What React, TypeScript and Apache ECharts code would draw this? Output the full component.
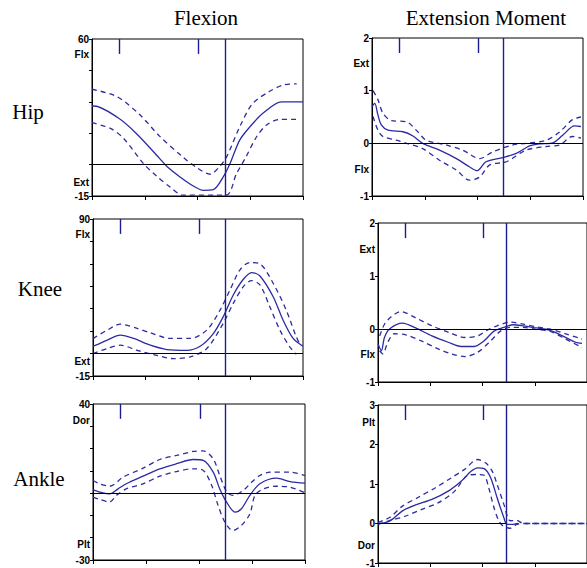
import React, { useEffect, useRef } from "react";
import * as echarts from "echarts";

// ---- data: [percent of gait cycle, value] ----
const hipFlexMean = [[0,28],[1,28],[12,22.6],[21,14.9],[32,3],[35.4,-0.8],[41.7,-5.9],[48,-10.2],[52.8,-12.3],[57.5,-12],[62.2,-5.9],[65.4,0.5],[70,11.7],[74.8,18],[81,24.5],[89.8,30],[100,30]];
const hipFlexUpper = [[0,36],[11.8,32.5],[22.8,23.7],[32,13.6],[43,3.7],[49.6,-1.4],[56,-4.6],[60.6,-0.8],[63.8,3.7],[70,18],[76,29],[84,34.9],[90.5,38],[97,38.6]];
const hipFlexLower = [[0,20],[8.7,17.3],[15,12.5],[24.4,0.5],[30.7,-5.6],[37,-10.7],[43,-14.6],[63.5,-14.6],[68.5,-4.3],[73,3.7],[78,13.3],[82.7,18.9],[89,21.6],[97,21.6]];

const hipMomMean = [[0,0.7],[1.3,0.76],[2.8,0.54],[4.4,0.35],[7.6,0.25],[14.7,0.22],[19.4,0.14],[24,0],[32,-0.13],[40,-0.29],[46.3,-0.45],[49.8,-0.52],[54,-0.35],[62,-0.27],[68.4,-0.19],[74.7,-0.05],[79.5,-0.01],[85.8,0.01],[90.5,0.16],[96,0.33],[99,0.32]];
const hipMomUpper = [[0.5,1.0],[2.8,0.83],[5.2,0.57],[9.2,0.43],[16.3,0.41],[21,0.25],[25.7,0.06],[35,-0.03],[43,-0.13],[51,-0.29],[57.3,-0.16],[66.8,-0.03],[73,0],[82.6,0.06],[89,0.22],[95,0.45],[99,0.5]];
const hipMomLower = [[0.5,0.51],[2.8,0.25],[5.2,0.13],[11.5,0.06],[16.3,0],[24,-0.1],[32,-0.32],[40,-0.51],[46.3,-0.7],[51,-0.64],[55.8,-0.41],[63.7,-0.35],[73,-0.13],[82.6,-0.06],[89,-0.03],[95,0.13],[99,0.1]];

const kneeFlexMean = [[0,5],[1.3,5.6],[6.8,9],[13,12.3],[19.4,10.1],[27.3,5.6],[35.2,2.7],[44.7,2.2],[51,4.9],[57.3,13.4],[62,24.6],[66.8,39.2],[71.6,49.7],[75.5,54.2],[79.5,51.9],[85.8,38],[90.5,22.4],[95.3,10.1],[100,4.9]];
const kneeFlexUpper = [[0,10],[1.3,11.2],[6.8,15.7],[13,19.7],[21,16.8],[27.3,13.9],[36.8,10.1],[46.3,10.1],[54.2,15.7],[60.5,29.1],[65.2,42.5],[70,56],[74.7,60.9],[79.5,60],[85.8,47],[92,29.1],[96.8,11.2],[99,5]];
const kneeFlexLower = [[0,0],[6.8,3.4],[13,5.6],[21,2.2],[28.9,-0.7],[38.4,-3.4],[46.3,-2.2],[54.2,3.4],[62,20.2],[66.8,33.6],[71.6,44.8],[75.5,48.8],[79.5,45.9],[84.2,31.3],[89,15.7],[93.7,4.5],[96.8,-0.4]];

const kneeMomMean = [[0,-0.28],[1.6,-0.41],[3.1,-0.16],[5.5,0],[11.7,0.11],[18,0.02],[25.8,-0.13],[33.6,-0.25],[39.8,-0.33],[46,-0.33],[50.8,-0.22],[55.5,-0.04],[60.2,0.03],[64.8,0.08],[69.5,0.06],[75.8,0.02],[82,-0.02],[88.3,-0.13],[94.5,-0.25],[97.6,-0.27]];
const kneeMomUpper = [[0.8,-0.13],[3.1,0.09],[6.3,0.23],[10.9,0.33],[18,0.21],[25.8,0.06],[33.6,-0.06],[41.4,-0.16],[47.7,-0.13],[52.3,-0.02],[57,0.06],[63.3,0.13],[69.5,0.09],[75.8,0.04],[82,0],[89.8,-0.09],[97.6,-0.19]];
const kneeMomLower = [[0.8,-0.41],[2.3,-0.47],[4.7,-0.25],[7.8,-0.09],[13.3,-0.11],[21,-0.23],[29,-0.38],[35.2,-0.47],[41.4,-0.52],[47.7,-0.44],[54,-0.22],[58.6,-0.04],[63.3,0.03],[69.5,0.03],[75.8,-0.01],[82,-0.04],[89.8,-0.19],[97.6,-0.35]];

const ankleFlexMean = [[0,1.5],[4.7,0.15],[7.9,-0.3],[11.8,1.9],[15.7,4.2],[23.6,7.6],[31.5,10.9],[39.4,13.2],[47.2,15.1],[52,14.7],[56.7,9.4],[59.8,1.9],[63,-4],[67,-8.5],[70,-7],[74,-1],[78.7,4.2],[86.6,6.7],[93,5.2],[100,4.5]];
const ankleFlexUpper = [[0,5.7],[3.1,4.2],[7.9,3.1],[14.2,7.2],[23.6,11.2],[31.5,15.1],[39.4,16.9],[47.2,18.7],[52,19],[56.7,15.4],[59.8,7.9],[63,0.7],[66,-1],[70.9,1.2],[74.8,4.9],[78.7,7.9],[83.5,9.4],[93,9.4],[100,7.9]];
const ankleFlexLower = [[0,-1.8],[3.1,-2.8],[7.9,-4],[11,-1],[15.7,1.9],[23.6,4.2],[31.5,7.6],[39.4,9.7],[47.2,10.9],[52,10.2],[56,3.4],[59,-5.5],[62.2,-13],[66,-16.8],[70,-14.5],[74,-9.3],[76.4,-1],[80.3,1.9],[86.6,3.1],[93,2.7],[100,0.15]];

const ankleMomMean = [[0,0],[3.9,0.03],[7,0.11],[11.7,0.32],[18,0.47],[25.8,0.61],[33.6,0.82],[39.8,1.07],[44.5,1.32],[47.7,1.41],[50.8,1.39],[53.9,1.16],[57,0.65],[60.2,0.15],[61.7,-0.02],[64.8,-0.02],[67,0]];
const ankleMomUpper = [[0,0.03],[5.5,0.15],[11.7,0.44],[19.5,0.67],[27.3,0.9],[35.2,1.16],[41.4,1.37],[47.7,1.62],[51.6,1.53],[54.7,1.32],[57,0.99],[60.2,0.49],[63.3,0.07],[66.4,0.08],[69.5,0],[100,0]];
const ankleMomLower = [[0,-0.02],[5.5,0.07],[13.3,0.19],[21,0.36],[29,0.53],[36.7,0.82],[43,1.22],[47.7,1.24],[50.8,1.22],[53,0.9],[55.5,0.4],[57.8,0.07],[60.2,-0.08],[63.3,-0.12],[66.4,-0.02],[69.5,0],[100,0]];

const toeOff = [63, 62, 63, 61.4, 62.2, 61.4];
const eventMarks = [13, 50.5];
const columnTitles = ["Flexion", "Extension Moment"];
const rowTitles = ["Hip", "Knee", "Ankle"];

const CURVE = "#2b2ba3";
const NAVY = "#1d1d8f";
const LABEL_FONT = 'bold 10px "Liberation Sans", Arial, sans-serif';

const panels = [
  { rect: { left: 92, top: 39, width: 211, height: 157 }, min: -15, max: 60, interval: 15, all: false, mean: hipFlexMean, upper: hipFlexUpper, lower: hipFlexLower, zeroEnd: 100, top: "Flx", bottom: "Ext", topY: 54.5, botY: 182.5 },
  { rect: { left: 372, top: 38, width: 211, height: 158 }, min: -1, max: 2, interval: 1, all: true, mean: hipMomMean, upper: hipMomUpper, lower: hipMomLower, zeroEnd: 100, top: "Ext", bottom: "Flx", topY: 63.5, botY: 169 },
  { rect: { left: 93, top: 219, width: 210, height: 157 }, min: -15, max: 90, interval: 15, all: false, mean: kneeFlexMean, upper: kneeFlexUpper, lower: kneeFlexLower, zeroEnd: 100, top: "Flx", bottom: "Ext", topY: 234.5, botY: 361 },
  { rect: { left: 378, top: 223, width: 213, height: 159 }, min: -1, max: 2, interval: 1, all: true, mean: kneeMomMean, upper: kneeMomUpper, lower: kneeMomLower, zeroEnd: 100, top: "Ext", bottom: "Flx", topY: 249, botY: 354 },
  { rect: { left: 93, top: 404, width: 212, height: 156 }, min: -30, max: 40, interval: 10, all: false, mean: ankleFlexMean, upper: ankleFlexUpper, lower: ankleFlexLower, zeroEnd: 100, top: "Dor", bottom: "Plt", topY: 420.5, botY: 544.5 },
  { rect: { left: 378, top: 405, width: 213, height: 159 }, min: -1, max: 3, interval: 1, all: true, mean: ankleMomMean, upper: ankleMomUpper, lower: ankleMomLower, zeroEnd: 61.4, top: "Plt", bottom: "Dor", topY: 422, botY: 545.5 },
];

export default function App() {
  const ref = useRef<HTMLDivElement>(null);
  useEffect(() => {
    const chart = echarts.init(ref.current!, null, { renderer: "svg" });
    const grid: any[] = [];
    const xAxis: any[] = [];
    const yAxis: any[] = [];
    const series: any[] = [];
    const graphic: any[] = [];

    panels.forEach((p, i) => {
      grid.push({ ...p.rect, show: true, borderColor: "#000", borderWidth: 1, backgroundColor: "transparent", containLabel: false });
      xAxis.push({
        type: "value", gridIndex: i, min: 0, max: 100, interval: 25,
        axisLine: { show: true, onZero: false, lineStyle: { color: "#000", width: 1 } },
        axisTick: { show: true, length: 4, lineStyle: { color: "#000" } },
        axisLabel: { show: false }, splitLine: { show: false },
      });
      yAxis.push({
        type: "value", gridIndex: i, min: p.min, max: p.max, interval: p.interval,
        axisLine: { show: true, onZero: false, lineStyle: { color: "#000", width: 1 } },
        axisTick: { show: true, length: 3, lineStyle: { color: "#000" } },
        axisLabel: {
          show: true, fontSize: 10, fontWeight: "bold", color: "#000",
          fontFamily: '"Liberation Sans", Arial, sans-serif', margin: 3,
          formatter: (v: number) => (p.all || v === p.min || v === p.max ? String(v) : ""),
        },
        splitLine: { show: false },
      });
      const mk = (p.max - p.min) * 0.095;
      const markData: any[] = [
        [{ coord: [0, 0], lineStyle: { color: "#000", width: 1.2, type: "solid" } }, { coord: [p.zeroEnd, 0] }],
        [{ coord: [toeOff[i], p.min], lineStyle: { color: NAVY, width: 1.4, type: "solid" } }, { coord: [toeOff[i], p.max] }],
      ];
      eventMarks.forEach((m) => {
        markData.push([{ coord: [m, p.max], lineStyle: { color: NAVY, width: 1.4, type: "solid" } }, { coord: [m, p.max - mk] }]);
      });
      series.push({
        type: "line", xAxisIndex: i, yAxisIndex: i, data: p.mean, smooth: 0.3, showSymbol: false, symbol: "none",
        lineStyle: { color: CURVE, width: 1.3 }, z: 3, silent: true,
        markLine: { silent: true, symbol: ["none", "none"], label: { show: false }, animation: false, data: markData },
      });
      [p.upper, p.lower].forEach((d) => {
        series.push({
          type: "line", xAxisIndex: i, yAxisIndex: i, data: d, smooth: 0.3, showSymbol: false, symbol: "none",
          lineStyle: { color: CURVE, width: 1.3, type: [5, 4] }, z: 3, silent: true,
        });
      });
      const lx = p.rect.left - 3;
      graphic.push({ type: "text", style: { text: p.top, x: lx, y: p.topY, font: LABEL_FONT, fill: "#000", align: "right", textAlign: "right", verticalAlign: "middle", textVerticalAlign: "middle" } });
      graphic.push({ type: "text", style: { text: p.bottom, x: lx, y: p.botY, font: LABEL_FONT, fill: "#000", align: "right", textAlign: "right", verticalAlign: "middle", textVerticalAlign: "middle" } });
    });

    const bigFont = '21px "Liberation Serif", "Times New Roman", serif';
    const titlePos = [[206, 18], [486, 18]];
    columnTitles.forEach((t, i) => {
      graphic.push({ type: "text", style: { text: t, x: titlePos[i][0], y: titlePos[i][1], font: bigFont, fill: "#000", align: "center", textAlign: "center", verticalAlign: "middle", textVerticalAlign: "middle" } });
    });
    const rowPos = [[28, 112], [40, 289], [39, 479]];
    rowTitles.forEach((t, i) => {
      graphic.push({ type: "text", style: { text: t, x: rowPos[i][0], y: rowPos[i][1], font: bigFont, fill: "#000", align: "center", textAlign: "center", verticalAlign: "middle", textVerticalAlign: "middle" } });
    });

    chart.setOption({ animation: false, backgroundColor: "#fff", grid, xAxis, yAxis, series, graphic });
    return () => chart.dispose();
  }, []);
  return <div ref={ref} style={{ position: "fixed", left: 0, top: 0, width: 587, height: 568 }} />;
}
